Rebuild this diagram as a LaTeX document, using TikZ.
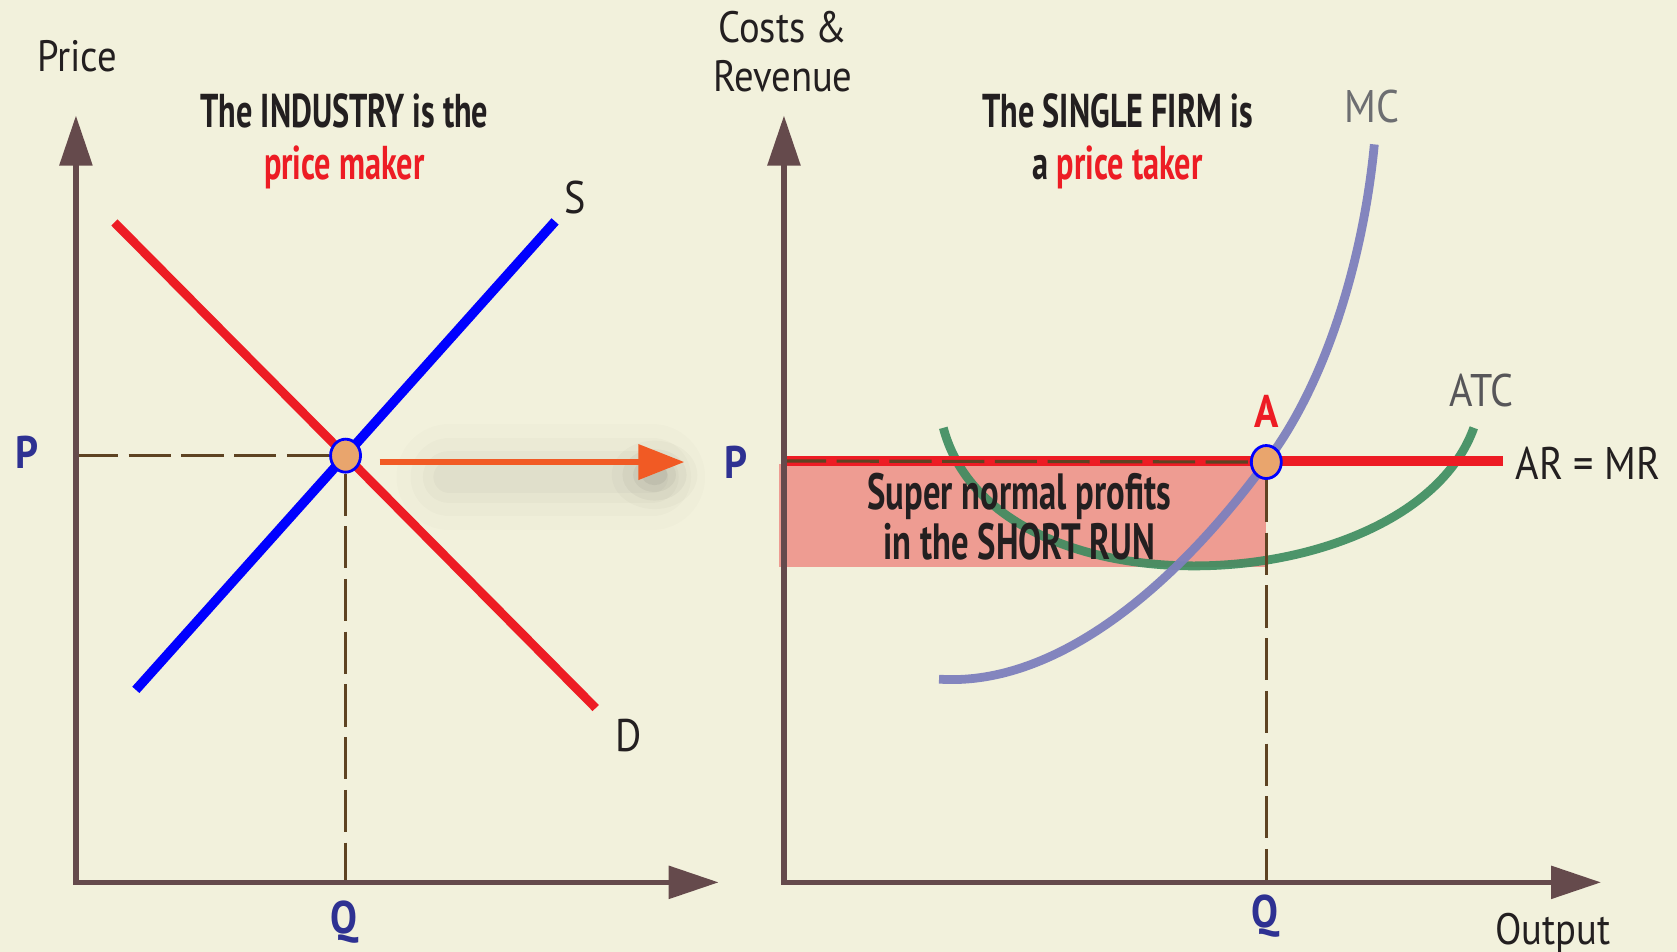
\documentclass[tikz,border=0pt]{standalone}
\usepackage{fontspec}
\setmainfont[FakeStretch=0.88]{PT Sans}
\newfontfamily\titlefont[FakeStretch=0.68]{PT Sans}
\usetikzlibrary{arrows.meta,positioning,shapes.geometric}
\definecolor{paper}{HTML}{F2F1DC}
\definecolor{axisbrown}{HTML}{654A4C}
\definecolor{dashbrown}{HTML}{5E4322}
\definecolor{dred}{HTML}{ED1C24}
\definecolor{sblue}{HTML}{0000FF}
\definecolor{dotfill}{HTML}{E9A56D}
\definecolor{arroworange}{HTML}{F15A24}
\definecolor{mcblue}{HTML}{7E80BD}
\definecolor{atcgreen}{HTML}{3B8B5E}
\definecolor{profitfill}{HTML}{EE9C92}
\definecolor{pqblue}{HTML}{2E3192}
\definecolor{labelgray}{HTML}{6D6E71}
\definecolor{ink}{HTML}{231F20}
\tikzset{
  axisline/.style={draw=axisbrown, line width=1.6pt, line join=miter,
                   {Triangle[length=5mm,width=3.2mm]}-{Triangle[length=5mm,width=3.2mm]}},
  supplyline/.style={draw=sblue, line width=2.7pt},
  demandline/.style={draw=dred, line width=2.5pt},
  dashline/.style={draw=dashbrown, line width=0.9pt, dash pattern=on 12pt off 3pt},
  eqdot/.style={ellipse, draw=sblue, line width=0.8pt, fill=dotfill,
                minimum width=3mm, minimum height=3.3mm, inner sep=0pt},
  transfer/.style={draw=arroworange, line width=1.9pt, -{Triangle[length=4.6mm,width=3.4mm]}},
  pqlabel/.style={font=\bfseries\fontsize{13}{15}\selectfont, text=pqblue},
  axislabel/.style={font=\fontsize{12.5}{14}\selectfont, text=ink, align=center},
  curvelabel/.style={font=\fontsize{13}{15}\selectfont, text=ink},
  titletext/.style={font=\titlefont\bfseries\fontsize{13.5}{14.6}\selectfont, text=ink, align=center},
}

\begin{document}
\begin{tikzpicture}[x=0.0107cm, y=-0.0107cm]
  \fill[paper] (0,0) rectangle (1568,890);
  \useasboundingbox (0,0) rectangle (1568,890);

  % industry diagram
  \coordinate (y1) at (71,108);
  \coordinate (o1) at (71,825);
  \coordinate (x1) at (672,825);
  \coordinate (s0) at (127,645);
  \coordinate (s1) at (519,207);
  \coordinate (d0) at (107,208);
  \coordinate (d1) at (557,662);

  \node[axislabel] (price) at (72,53) {Price};
  \node[titletext] (tmaker) at (322,132) {The INDUSTRY is the\\\textcolor{dred}{price maker}};

  \draw[demandline] (d0) -- (d1);
  \draw[supplyline] (s0) -- (s1);
  \node[curvelabel] (slab) at (538,185) {S};
  \node[curvelabel] (dlab) at (588,688) {D};

  \node[pqlabel] (p1) at (25,423) {P};
  \node[pqlabel] (q1) at (322,862) {Q};

  \node[eqdot] (e1) at (intersection of s0--s1 and d0--d1) {};
  \draw[dashline] (o1 |- e1) -- (e1.west);
  \draw[dashline] (e1.south) -- (e1 |- o1);
  \draw[axisline] (y1) |- (x1);

  % soft shadow under the arrow
  \coordinate (sh0) at (420,446);
  \coordinate (sh1) at (610,446);
  \foreach \w/\o in {30/0.012,22/0.016,15/0.02,9/0.025}
    \draw[line width=\w pt, black, opacity=\o, line cap=round] (sh0) -- (sh1);
  \foreach \r/\o in {40/0.02,30/0.03,20/0.04,12/0.05}
    \fill[black, opacity=\o] (612,444) ellipse ({\r} and {0.8*\r});
  \coordinate (a0) at (355,432);
  \coordinate (a1) at (640,432);
  \draw[transfer] (a0) -- (a1);

  % firm diagram
  \coordinate (y2) at (733,108);
  \coordinate (o2) at (733,825);
  \coordinate (x2) at (1497,825);
  \coordinate (ar0) at (733,431);
  \coordinate (ar1) at (1405,431);
  \coordinate (ptA) at (1184,432);

  \node[axislabel] (costs) at (732,48) {Costs \&\\Revenue};
  \node[titletext] (ttaker) at (1045,132) {The SINGLE FIRM is\\a \textcolor{dred}{price taker}};

  \fill[profitfill] (728,434) rectangle (1184,530);
  \draw[atcgreen, line width=2.5pt, opacity=0.9] (882,400) .. controls (930,582) and (1320,562) .. (1378,400);
  \draw[mcblue, line width=2.5pt, opacity=0.95] (878,635) .. controls (980,642) and (1090,560) .. (ptA)
        .. controls (1245,351) and (1276,230) .. (1285,135);
  \node[titletext, font=\titlefont\bfseries\fontsize{14.5}{14}\selectfont] (profit) at (953,483) {Super normal profits\\in the SHORT RUN};

  \draw[dred, line width=2.8pt] (ar0) -- (ar1);
  \node[eqdot] (eA) at (ptA) {};
  \draw[dashline] (ar0) -- (eA.west);
  \draw[dashline] (eA.south) -- (eA |- o2);
  \draw[axisline] (y2) |- (x2);

  \node[pqlabel] (p2) at (688,432) {P};
  \node[pqlabel] (q2) at (1183,857) {Q};
  \node[font=\bfseries\fontsize{13}{15}\selectfont, text=dred] (alab) at (1184,385) {A};
  \node[curvelabel, text=labelgray] (mclab) at (1283,100) {MC};
  \node[curvelabel, text=labelgray!70!ink] (atclab) at (1385,365) {ATC};
  \node[curvelabel] (armr) at (1485,433) {AR = MR};
  \node[axislabel] (output) at (1452,873) {Output};
\end{tikzpicture}
\end{document}
